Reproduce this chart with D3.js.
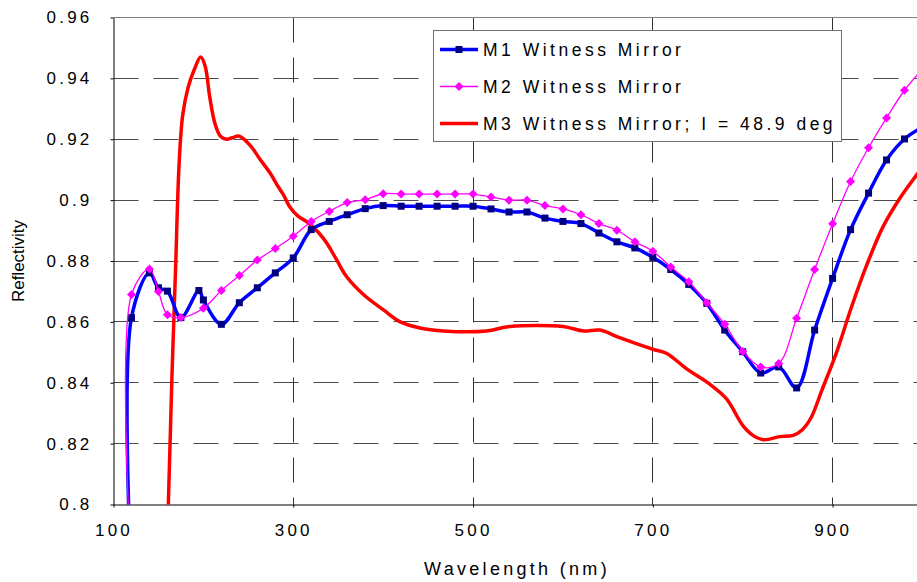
<!DOCTYPE html>
<html>
<head>
<meta charset="utf-8">
<script src="https://cdn.jsdelivr.net/npm/d3@7"></script>
<style>
  body { margin: 0; background: #fff; }
  svg { display: block; font-family: "Liberation Sans", Arial, sans-serif; }
</style>
</head>
<body>
<svg width="917" height="582"></svg>
<script>
// wavelengths (nm) and reflectivity
var m1Wave = [118, 120, 140, 150, 160, 175, 195, 200, 220, 240, 260, 280, 300, 320, 340, 360, 380, 400, 420, 440, 460, 480, 500,
    520, 540, 560, 580, 600, 620, 640, 660, 680, 700, 720, 740, 760, 780, 800, 820, 840, 860, 880, 900, 920, 940, 960, 980, 1000];
var m1Refl = [0.79, 0.8614, 0.8761, 0.8712, 0.8701, 0.8614, 0.8703, 0.8672, 0.8592, 0.8663, 0.8712, 0.8761, 0.881, 0.8903, 0.893, 0.8952, 0.8972, 0.8982, 0.898, 0.898, 0.898, 0.898, 0.898,
    0.8971, 0.8961, 0.8961, 0.8941, 0.893, 0.8923, 0.8892, 0.8863, 0.8843, 0.8812, 0.8772, 0.8723, 0.8661, 0.8573, 0.8502, 0.8432, 0.8452, 0.8383, 0.8573, 0.8743, 0.8903, 0.9023, 0.9132, 0.9201, 0.924];

var m2Wave = [118, 120, 140, 150, 160, 175, 200, 220, 240, 260, 280, 300, 320, 340, 360, 380, 400, 420, 440, 460, 480, 500,
    520, 540, 560, 580, 600, 620, 640, 660, 680, 700, 720, 740, 760, 780, 800, 820, 840, 860, 880, 900, 920, 940, 960, 980, 1000];
var m2Refl = [0.79, 0.869, 0.8774, 0.870, 0.8623, 0.8614, 0.8645, 0.8703, 0.8752, 0.8803, 0.8841, 0.8881, 0.893, 0.8963, 0.8992, 0.9001, 0.9021, 0.902, 0.902, 0.902, 0.902, 0.902,
    0.901, 0.900, 0.900, 0.8982, 0.8971, 0.8952, 0.8923, 0.8901, 0.8863, 0.8832, 0.878, 0.8732, 0.8663, 0.8592, 0.8503, 0.8452, 0.8463, 0.8612, 0.8772, 0.8922, 0.9061, 0.9172, 0.927, 0.9361, 0.943];

var m3Wave = [157, 161, 165, 169, 173, 177, 183, 190, 197, 202, 207, 213, 219, 226, 232, 240, 252, 263, 274, 283, 289, 296, 305, 316, 327, 337, 348, 359, 378, 400, 419, 441, 467, 515,
    541, 600, 623, 641, 663, 700, 715, 738, 763, 782, 800, 811, 823, 841, 856, 866, 876, 888, 905, 920, 938, 956, 975, 994, 1000];
var m3Refl = [0.770, 0.800, 0.842, 0.877, 0.912, 0.928, 0.937, 0.943, 0.947, 0.944, 0.934, 0.925, 0.921, 0.920, 0.9205, 0.921, 0.918, 0.9134, 0.909, 0.9045, 0.9018, 0.8978, 0.8948, 0.8927, 0.8897, 0.886, 0.8805, 0.875, 0.869, 0.864, 0.860, 0.858, 0.857, 0.857,
    0.8585, 0.8585, 0.857, 0.8573, 0.8548, 0.851, 0.8497, 0.8445, 0.8396, 0.8347, 0.826, 0.8228, 0.8213, 0.8223, 0.8227, 0.8245, 0.8285, 0.8375, 0.8505, 0.864, 0.8787, 0.8912, 0.9007, 0.9085, 0.911];

var seriesNames = ["M1 Witness Mirror", "M2 Witness Mirror", "M3 Witness Mirror; I = 48.9 deg"];
var xTicks = [100, 300, 500, 700, 900];
var yTicks = [0.8, 0.82, 0.84, 0.86, 0.88, 0.9, 0.92, 0.94, 0.96];

function zip(xs, ys) {
    return xs.map(function(x, i) { return {w: x, r: ys[i]}; });
}
var m1 = zip(m1Wave, m1Refl),
    m2 = zip(m2Wave, m2Refl),
    m3 = zip(m3Wave, m3Refl);

//Boilerplate
var svg = d3.select("svg"),
    plotLeft = 113.5, plotRight = 922.5, plotTop = 17.5, plotBottom = 504.5;

var x = d3.scaleLinear().domain([100, 1000]).range([plotLeft, plotRight]),
    y = d3.scaleLinear().domain([0.8, 0.96]).range([plotBottom, plotTop]);

// snap to half pixels so thin lines stay crisp
function px(v) { return Math.round(v - 0.5) + 0.5; }

// grid
svg.append("g").selectAll("line")
    .data(yTicks.filter(function(d) { return d > 0.8 && d < 0.96; }))
    .enter().append("line")
    .attr("x1", plotLeft).attr("x2", plotRight)
    .attr("y1", function(d) { return px(y(d)); })
    .attr("y2", function(d) { return px(y(d)); })
    .style("stroke", "#4a4a4a")
    .style("stroke-dasharray", "25,15");

svg.append("g").selectAll("line")
    .data(xTicks.filter(function(d) { return d > 100; }))
    .enter().append("line")
    .attr("x1", function(d) { return px(x(d)); })
    .attr("x2", function(d) { return px(x(d)); })
    .attr("y1", plotTop).attr("y2", plotBottom)
    .style("stroke", "#333")
    .style("stroke-dasharray", "25,15");

// top border of the plot area
svg.append("line")
    .attr("x1", plotLeft).attr("x2", plotRight)
    .attr("y1", plotTop).attr("y2", plotTop)
    .style("stroke", "#808080");

// axes
var yAxis = svg.append("g")
    .attr("transform", "translate(" + plotLeft + ",0)")
    .call(d3.axisLeft(y).tickValues(yTicks).tickSizeInner(3).tickSizeOuter(0).tickPadding(18)
        .tickFormat(function(d) { return String(+d.toFixed(2)); }));

var xAxis = svg.append("g")
    .attr("transform", "translate(0," + plotBottom + ")")
    .call(d3.axisBottom(x).tickValues(xTicks).tickSizeInner(3).tickSizeOuter(0).tickPadding(16));

[yAxis, xAxis].forEach(function(a) {
    a.select(".domain").style("stroke", "#000");
    a.selectAll(".tick line").style("stroke", "#000");
    a.selectAll("text")
        .style("font-family", "'Liberation Sans', Arial, sans-serif")
        .style("font-size", "17px")
        .style("letter-spacing", "3.2px")
        .style("fill", "#000");
});

// axis titles
svg.append("text")
    .attr("x", 517)
    .attr("y", 575)
    .style("text-anchor", "middle")
    .style("font-size", "18px")
    .style("letter-spacing", "3.3px")
    .text("Wavelength (nm)");

svg.append("text")
    .attr("transform", "translate(24,261) rotate(-90)")
    .style("text-anchor", "middle")
    .style("font-size", "17px")
    .text("Reflectivity");

// clip the curves to the plot area
svg.append("clipPath").attr("id", "plot")
    .append("rect")
    .attr("x", plotLeft).attr("y", plotTop)
    .attr("width", plotRight - plotLeft).attr("height", plotBottom - plotTop);

var line = d3.line()
    .x(function(d) { return x(d.w); })
    .y(function(d) { return y(d.r); })
    .curve(d3.curveCatmullRom.alpha(0.5));

var g = svg.append("g").attr("clip-path", "url(#plot)");

g.append("path").datum(m3)
    .attr("d", line)
    .style("fill", "none").style("stroke", "#ff0000").style("stroke-width", 3.5)
    .style("stroke-linejoin", "round");

g.append("path").datum(m1)
    .attr("d", line)
    .style("fill", "none").style("stroke", "#0000ff").style("stroke-width", 3.5)
    .style("stroke-linejoin", "round");

g.selectAll(".sq").data(m1)
    .enter().append("rect")
    .attr("class", "sq")
    .attr("x", function(d) { return x(d.w) - 3.5; })
    .attr("y", function(d) { return y(d.r) - 3.5; })
    .attr("width", 7).attr("height", 7)
    .style("fill", "#000080");

g.append("path").datum(m2)
    .attr("d", line)
    .style("fill", "none").style("stroke", "#ff00ff").style("stroke-width", 1.3);

var diamond = "M0,-4.5L4.5,0L0,4.5L-4.5,0Z";
g.selectAll(".dm").data(m2)
    .enter().append("path")
    .attr("class", "dm")
    .attr("d", diamond)
    .attr("transform", function(d) { return "translate(" + x(d.w) + "," + y(d.r) + ")"; })
    .style("fill", "#ff00ff");

// legend
var legend = svg.append("g");
legend.append("rect")
    .attr("x", 433.5).attr("y", 30.5)
    .attr("width", 408).attr("height", 111)
    .style("fill", "#fff").style("stroke", "#707070");

var legendRows = [
    {color: "#0000ff", width: 3.5, mark: "sq"},
    {color: "#ff00ff", width: 1.3, mark: "dm"},
    {color: "#ff0000", width: 3.5, mark: null}
];

legendRows.forEach(function(r, i) {
    var ly = 49.5 + i * 37;
    legend.append("line")
        .attr("x1", 440).attr("x2", 478)
        .attr("y1", ly).attr("y2", ly)
        .style("stroke", r.color).style("stroke-width", r.width);
    if (r.mark === "sq") {
        legend.append("rect")
            .attr("x", 455.5).attr("y", ly - 3.5)
            .attr("width", 7).attr("height", 7)
            .style("fill", "#000080");
    } else if (r.mark === "dm") {
        legend.append("path")
            .attr("d", diamond)
            .attr("transform", "translate(459," + ly + ")")
            .style("fill", "#ff00ff");
    }
    legend.append("text")
        .attr("x", 483)
        .attr("y", ly + 6)
        .style("font-size", "17.5px")
        .style("letter-spacing", "3.5px")
        .text(seriesNames[i]);
});
</script>
</body>
</html>
